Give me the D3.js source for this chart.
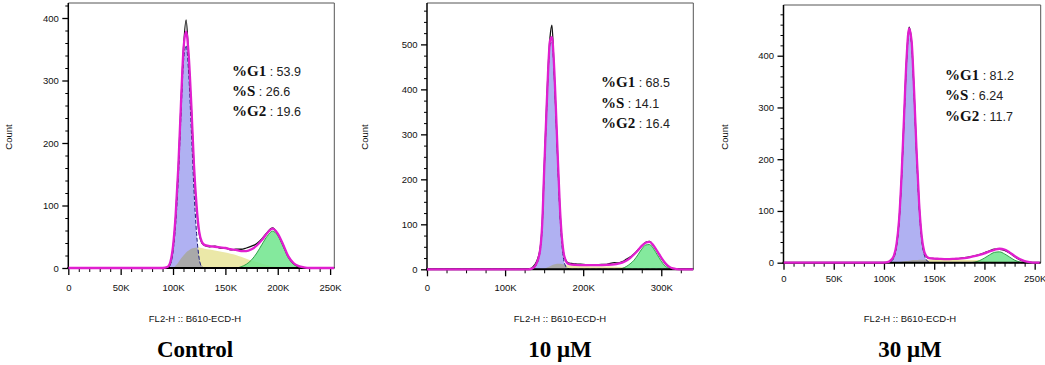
<!DOCTYPE html>
<html>
<head>
<meta charset="utf-8">
<script src="https://cdn.jsdelivr.net/npm/d3@7"></script>
<style>
  body { margin: 0; background: #fff; }
  svg { display: block; }
</style>
</head>
<body>
<svg id="chart" width="1045" height="365"></svg>
<script>
// channel positions are in K (x1000), values are counts per channel

// Control
const ctrlX   = [0, 90, 95, 97.5, 100, 102.5, 105, 107.5, 110, 112.5, 115, 117.5, 120, 122.5, 125, 127.5, 130, 135, 140, 145, 150, 155, 160, 165, 170, 175, 180, 185, 190, 195, 200, 205, 210, 215, 220, 225, 230, 254];
const ctrlRaw = [0, 0, 1, 8, 32, 82, 158, 258, 352, 397, 335, 255, 160, 95, 55, 40, 36, 34, 35, 32, 32, 29, 30, 30, 32, 35, 39, 47, 57, 64, 54, 37, 18, 7, 2, 0.5, 0, 0];
const ctrlFit = [0, 0, 2, 10, 35, 85, 160, 260, 350, 378, 340, 260, 165, 100, 58, 42, 37, 35, 34, 33, 32, 30, 29, 27, 27, 30, 36, 45, 56, 63, 55, 38, 19, 8, 3, 1, 0, 0];
const ctrlG1  = [0, 0, 1, 6, 26, 70, 142, 240, 330, 356, 310, 220, 125, 55, 15, 2, 0, 0, 0, 0, 0, 0, 0, 0, 0, 0, 0, 0, 0, 0, 0, 0, 0, 0, 0, 0, 0, 0];
const ctrlS   = [0, 0, 0, 0, 0, 4, 9, 15, 20, 25, 28, 31, 32, 33, 33, 32, 31, 29.5, 28, 26.5, 25, 23, 21, 18, 15, 12, 9.5, 7, 5, 3, 2, 1, 0.5, 0, 0, 0, 0, 0];
const ctrlG2  = [0, 0, 0, 0, 0, 0, 0, 0, 0, 0, 0, 0, 0, 0, 0, 0, 0, 0, 0, 0, 0, 0, 0, 2, 6, 13, 24, 38, 51, 59, 52, 35, 17, 6, 1.5, 0, 0, 0];

// 10 uM
const uM10X   = [0, 130, 135, 140, 145, 147.5, 150, 152.5, 155, 157.5, 160, 162.5, 165, 167.5, 170, 172.5, 175, 177.5, 180, 185, 190, 200, 210, 220, 230, 240, 245, 250, 255, 260, 265, 270, 275, 280, 285, 290, 295, 300, 305, 310, 315, 320, 325, 341];
const uM10Raw = [0, 0, 4, 16, 48, 100, 222, 334, 442, 515, 543, 455, 352, 242, 140, 72, 35, 21, 15, 13, 12, 11, 10, 10.5, 11, 15, 14, 17, 22, 27, 34, 43, 52, 60, 62, 52, 39, 25, 13, 5, 1.5, 0, 0, 0];
const uM10Fit = [0, 0, 2, 12, 45, 100, 218, 330, 438, 508, 516, 460, 360, 248, 145, 75, 36, 20, 13, 10.5, 10, 9.5, 9.5, 9.5, 10, 11, 12.5, 15, 19, 25, 33, 42, 52, 59, 61, 53, 40, 26, 14, 6, 2, 0.5, 0, 0];
const uM10G1  = [0, 0, 1, 10, 42, 95, 213, 324, 431, 500, 506, 448, 347, 234, 130, 60, 22, 7, 2, 0, 0, 0, 0, 0, 0, 0, 0, 0, 0, 0, 0, 0, 0, 0, 0, 0, 0, 0, 0, 0, 0, 0, 0, 0];
const uM10S   = [0, 0, 0, 0, 0, 0, 1, 3, 5, 7, 9, 10.5, 12, 12.5, 12.5, 12, 11, 10, 9, 8, 7.5, 7, 6.5, 6, 6, 5.5, 5, 4.5, 4, 3.5, 3, 2.5, 2, 1.5, 1, 0.7, 0.4, 0.2, 0, 0, 0, 0, 0, 0];
const uM10G2  = [0, 0, 0, 0, 0, 0, 0, 0, 0, 0, 0, 0, 0, 0, 0, 0, 0, 0, 0, 0, 0, 0, 0, 0, 0, 0, 0.5, 2, 6, 12, 20, 32, 45, 54, 55, 46, 32, 18, 7, 2, 0, 0, 0, 0];

// 30 uM
const uM30X   = [0, 100, 105, 107.5, 110, 112.5, 115, 117.5, 120, 122.5, 125, 127.5, 130, 132.5, 135, 137.5, 140, 142.5, 145, 150, 155, 160, 165, 170, 175, 180, 185, 190, 195, 200, 205, 210, 215, 220, 225, 230, 235, 240, 245, 250, 255];
const uM30Raw = [0, 0, 1, 5, 13, 34, 80, 166, 281, 393, 455, 426, 330, 210, 112, 50, 20, 11, 8.5, 8, 7, 7.5, 7, 7, 8.5, 10, 11, 13, 15.5, 19, 23, 26, 26, 24, 19, 12, 6, 2.5, 0.5, 0, 0];
const uM30Fit = [0, 0, 2, 6, 14, 36, 82, 168, 283, 395, 453, 428, 332, 213, 115, 52, 22, 12, 9, 8, 7.5, 7, 7, 7.5, 8, 9, 10.5, 12.5, 15, 18, 22, 25, 27, 25.5, 20, 13, 7, 3, 1, 0, 0];
const uM30G1  = [0, 0, 0.5, 3, 10, 31, 77, 162, 278, 390, 448, 422, 326, 206, 107, 45, 16, 5, 1, 0, 0, 0, 0, 0, 0, 0, 0, 0, 0, 0, 0, 0, 0, 0, 0, 0, 0, 0, 0, 0, 0];
const uM30S   = [0, 0, 0, 0, 0, 0.5, 1, 2, 3, 3.5, 4, 4.5, 5, 5, 5.5, 5.5, 5.5, 5.5, 5.5, 5.5, 5.5, 5.5, 5.5, 5.5, 5.5, 5.5, 5, 5, 4.5, 4, 3.5, 3, 2.5, 2, 1.5, 1, 0.5, 0.2, 0, 0, 0];
const uM30G2  = [0, 0, 0, 0, 0, 0, 0, 0, 0, 0, 0, 0, 0, 0, 0, 0, 0, 0, 0, 0, 0, 0, 0, 0, 0, 0, 0, 1, 4, 9, 15, 20, 21, 17, 11, 5, 1.5, 0, 0, 0, 0];

const panelTitles = ["Control", "10 μM", "30 μM"];
const phaseNames = ["%G1", "%S", "%G2"];
const ctrlPct = ["53.9", "26.6", "19.6"];
const uM10Pct = ["68.5", "14.1", "16.4"];
const uM30Pct = ["81.2", "6.24", "11.7"];
const xAxisTitle = "FL2-H :: B610-ECD-H";
const yAxisTitle = "Count";
const ctrlXTicks = [0, 50, 100, 150, 200, 250];
const uM10XTicks = [0, 100, 200, 300];
const uM30XTicks = [0, 50, 100, 150, 200, 250];
const ctrlYTicks = [0, 100, 200, 300, 400];
const uM10YTicks = [0, 100, 200, 300, 400, 500];
const uM30YTicks = [0, 100, 200, 300, 400];

const panels = [
	{ x: ctrlX, raw: ctrlRaw, fit: ctrlFit, g1: ctrlG1, s: ctrlS, g2: ctrlG2, pct: ctrlPct, xTicks: ctrlXTicks, yTicks: ctrlYTicks },
	{ x: uM10X, raw: uM10Raw, fit: uM10Fit, g1: uM10G1, s: uM10S, g2: uM10G2, pct: uM10Pct, xTicks: uM10XTicks, yTicks: uM10YTicks },
	{ x: uM30X, raw: uM30Raw, fit: uM30Fit, g1: uM30G1, s: uM30S, g2: uM30G2, pct: uM30Pct, xTicks: uM30XTicks, yTicks: uM30YTicks }
];

// pixel layout of each plot box
const layout = [
	{ left: 68.3, right: 334.3, top: 3, bottom: 268, xMax: 254, yMax: 424, xMinor: 10, yMinor: 20, labelOff: 9, textX: 232, textY: 75.5, center: 195, countX: 8.5 },
	{ left: 427, right: 693.3, top: 3, bottom: 269.3, xMax: 341, yMax: 592, xMinor: 25, yMinor: 25, labelOff: 8, textX: 601, textY: 87.3, center: 560, countX: 365 },
	{ left: 783.5, right: 1040.7, top: 5, bottom: 262.7, xMax: 256, yMax: 498, xMinor: 10, yMinor: 20, labelOff: 6, textX: 945, textY: 80, center: 910, countX: 725 }
];

const sans = "'Liberation Sans', Arial, sans-serif";
const serif = "'Liberation Serif', 'Times New Roman', serif";

const svg = d3.select("#chart");
svg.append("rect").attr("width", 1045).attr("height", 365).attr("fill", "#fff");

panels.forEach((p, i) => drawPanel(p, layout[i], i));

function drawPanel(p, L, i) {
	const x = d3.scaleLinear().domain([0, L.xMax]).range([L.left, L.right]);
	const y = d3.scaleLinear().domain([0, L.yMax]).range([L.bottom, L.top]);

	const rows = p.x.map((v, k) => ({
		x: v, raw: p.raw[k], fit: p.fit[k], g1: p.g1[k], s: p.s[k], g2: p.g2[k],
		overlap: Math.min(p.g1[k], p.s[k])
	}));

	const g = svg.append("g");

	g.append("clipPath").attr("id", "clip" + i)
		.append("rect")
		.attr("x", L.left).attr("y", L.top)
		.attr("width", L.right - L.left).attr("height", L.bottom - L.top + 2);

	const plot = g.append("g").attr("clip-path", `url(#clip${i})`);

	const area = key => d3.area()
		.x(d => x(d.x))
		.y0(y(0))
		.y1(d => y(d[key]))
		.curve(d3.curveMonotoneX);
	const line = key => d3.line()
		.x(d => x(d.x))
		.y(d => y(d[key]))
		.curve(d3.curveMonotoneX);

	// model components
	plot.append("path").datum(rows).attr("d", area("s")).attr("fill", "#ebe8a8");
	plot.append("path").datum(rows).attr("d", area("g2")).attr("fill", "#6fe58c").attr("fill-opacity", 0.85);
	plot.append("path").datum(rows).attr("d", line("g2")).attr("fill", "none").attr("stroke", "#1f9a3a").attr("stroke-width", 0.9);
	plot.append("path").datum(rows).attr("d", area("g1")).attr("fill", "#b0b1f2");
	plot.append("path").datum(rows).attr("d", area("overlap")).attr("fill", "#a9a9a9");
	plot.append("path").datum(rows).attr("d", line("g1")).attr("fill", "none")
		.attr("stroke", "#1c1c78").attr("stroke-width", 1).attr("stroke-dasharray", "4,2");

	// frame
	g.append("line").attr("x1", L.left).attr("x2", L.right).attr("y1", L.top).attr("y2", L.top).attr("stroke", "#555").attr("stroke-width", 1);
	g.append("line").attr("x1", L.right).attr("x2", L.right).attr("y1", L.top).attr("y2", L.bottom).attr("stroke", "#555").attr("stroke-width", 1);

	// x axis
	const xMinors = d3.range(0, L.xMax + 0.01, L.xMinor).filter(v => !p.xTicks.includes(v));
	g.append("g").attr("transform", `translate(0,${L.bottom})`)
		.call(d3.axisBottom(x).tickValues(xMinors).tickSize(4).tickFormat(""))
		.call(a => a.select(".domain").remove());
	const xa = g.append("g").attr("transform", `translate(0,${L.bottom})`)
		.call(d3.axisBottom(x).tickValues(p.xTicks).tickSize(7).tickPadding(L.labelOff)
			.tickFormat(d => d === 0 ? "0" : d + "K"));
	xa.select(".domain").remove();
	xa.selectAll("line").attr("stroke-width", 1.3);
	xa.selectAll("text").attr("font-family", sans).attr("font-size", 9.5).attr("fill", "#111");

	// y axis
	const yMinors = d3.range(0, L.yMax, L.yMinor).filter(v => !p.yTicks.includes(v));
	g.append("g").attr("transform", `translate(${L.left},0)`)
		.call(d3.axisLeft(y).tickValues(yMinors).tickSize(3).tickFormat(""))
		.call(a => a.select(".domain").remove());
	const ya = g.append("g").attr("transform", `translate(${L.left},0)`)
		.call(d3.axisLeft(y).tickValues(p.yTicks).tickSize(6).tickPadding(3.5));
	ya.select(".domain").remove();
	ya.selectAll("line").attr("stroke-width", 1.3);
	ya.selectAll("text").attr("font-family", sans).attr("font-size", 9.5).attr("fill", "#111");

	g.append("line").attr("x1", L.left).attr("x2", L.left).attr("y1", L.top).attr("y2", L.bottom + 1)
		.attr("stroke", "#000").attr("stroke-width", 1.5);
	g.append("line").attr("x1", L.left - 1).attr("x2", L.right).attr("y1", L.bottom).attr("y2", L.bottom)
		.attr("stroke", "#000").attr("stroke-width", 2);

	// raw histogram and fitted total, on top of the baseline
	const top = g.append("g").attr("clip-path", `url(#clip${i})`);
	top.append("path").datum(rows).attr("d", line("raw")).attr("fill", "none")
		.attr("stroke", "#111").attr("stroke-width", 1.3);
	top.append("path").datum(rows).attr("d", line("fit")).attr("fill", "none")
		.attr("stroke", "#e01fcf").attr("stroke-width", 2.3);

	// axis titles
	g.append("text")
		.attr("transform", `translate(${L.countX},137) rotate(-90)`)
		.attr("text-anchor", "middle").attr("dy", "0.35em")
		.attr("font-family", sans).attr("font-size", 9.5).attr("fill", "#111")
		.text(yAxisTitle);
	g.append("text")
		.attr("x", L.center).attr("y", 321.5)
		.attr("text-anchor", "middle")
		.attr("font-family", sans).attr("font-size", 9.5).attr("fill", "#111")
		.text(xAxisTitle);
	g.append("text")
		.attr("x", L.center).attr("y", 357)
		.attr("text-anchor", "middle")
		.attr("font-family", serif).attr("font-size", 23).attr("font-weight", "bold")
		.text(panelTitles[i]);

	// phase percentages
	phaseNames.forEach((name, k) => {
		const t = g.append("text").attr("x", L.textX).attr("y", L.textY + k * 20.3);
		t.append("tspan").attr("font-family", serif).attr("font-size", 15).attr("font-weight", "bold").attr("fill", "#111").text(name);
		t.append("tspan").attr("font-family", sans).attr("font-size", 12.5).attr("fill", "#222").text(" : " + p.pct[k]);
	});
}
</script>
</body>
</html>
